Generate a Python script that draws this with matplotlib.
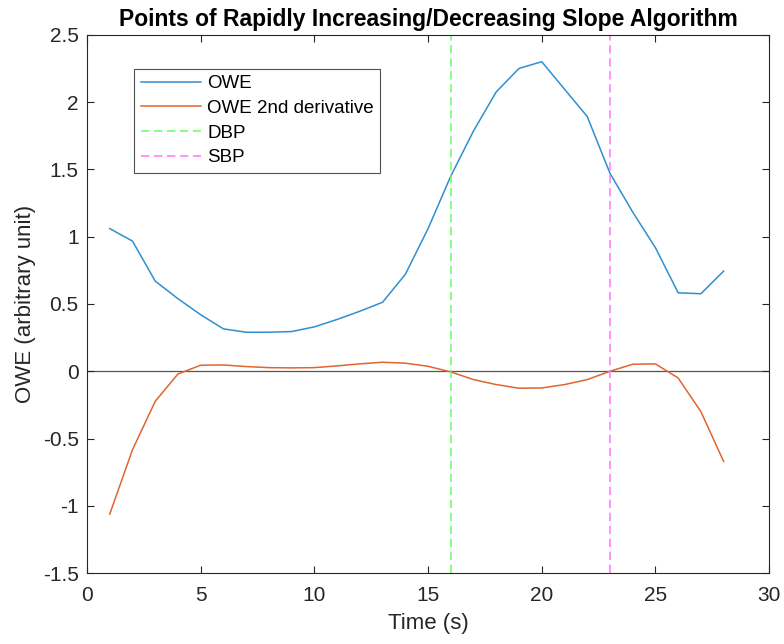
import numpy as np
import matplotlib.pyplot as plt

plt.rcParams['font.family'] = ['Liberation Sans', 'DejaVu Sans']

t = np.arange(1, 29)
owe = [1.06, 0.967, 0.67, 0.539, 0.42, 0.315, 0.29, 0.29, 0.295, 0.33,
       0.385, 0.446, 0.513, 0.72, 1.06, 1.45, 1.786, 2.076, 2.25, 2.30,
       2.096, 1.893, 1.471, 1.183, 0.918, 0.583, 0.576, 0.744]
owe_d2 = [-1.061, -0.583, -0.223, -0.02, 0.045, 0.047, 0.035, 0.027, 0.025, 0.027,
          0.04, 0.055, 0.067, 0.06, 0.037, -0.005, -0.062, -0.099, -0.126, -0.124,
          -0.099, -0.062, 0.0, 0.052, 0.055, -0.05, -0.30, -0.67]
dbp_t = 16
sbp_t = 23

fig = plt.figure(figsize=(7.84, 6.44), dpi=100)
ax = fig.add_axes([0.111, 0.110, 0.870, 0.836])

ax.axhline(0, color='#555555', lw=0.9, zorder=1)
ax.plot(t, owe, color='#2f8fd0', lw=1.1, label='OWE')
ax.plot(t, owe_d2, color='#e0652f', lw=1.1, label='OWE 2nd derivative')
ax.axvline(dbp_t, color='#66ff66', lw=1.1, dashes=(5.5, 3), label='DBP')
ax.axvline(sbp_t, color='#ff77ff', lw=1.1, dashes=(5.5, 3), label='SBP')

ax.set_xlim(0, 30)
ax.set_ylim(-1.5, 2.5)
ax.set_xticks(np.arange(0, 31, 5))
ax.set_yticks(np.arange(-1.5, 2.51, 0.5))
ax.set_yticklabels(['-1.5', '-1', '-0.5', '0', '0.5', '1', '1.5', '2', '2.5'])
ax.tick_params(direction='in', top=True, right=True, labelsize=15,
               labelcolor='#262626', color='#262626', length=5, width=0.8)
ax.tick_params(axis='x', pad=9)
ax.tick_params(axis='y', pad=6)
for s in ax.spines.values():
    s.set_color('#262626')
    s.set_linewidth(0.8)

ax.set_xlabel('Time (s)', fontsize=16, color='#262626', labelpad=6)
ax.set_ylabel('OWE (arbitrary unit)', fontsize=16, color='#262626', labelpad=5)
ax.set_title('Points of Rapidly Increasing/Decreasing Slope Algorithm',
             fontsize=16.5, fontweight='bold', pad=6)

leg = ax.legend(loc='upper left', bbox_to_anchor=(0.069, 0.937), fontsize=13.5,
                frameon=True, fancybox=False, edgecolor='#262626',
                borderaxespad=0, handlelength=3.2, handletextpad=0.35,
                labelspacing=0.4, borderpad=0.35)
leg.get_frame().set_linewidth(0.8)

fig.savefig('out.png', dpi=100)
